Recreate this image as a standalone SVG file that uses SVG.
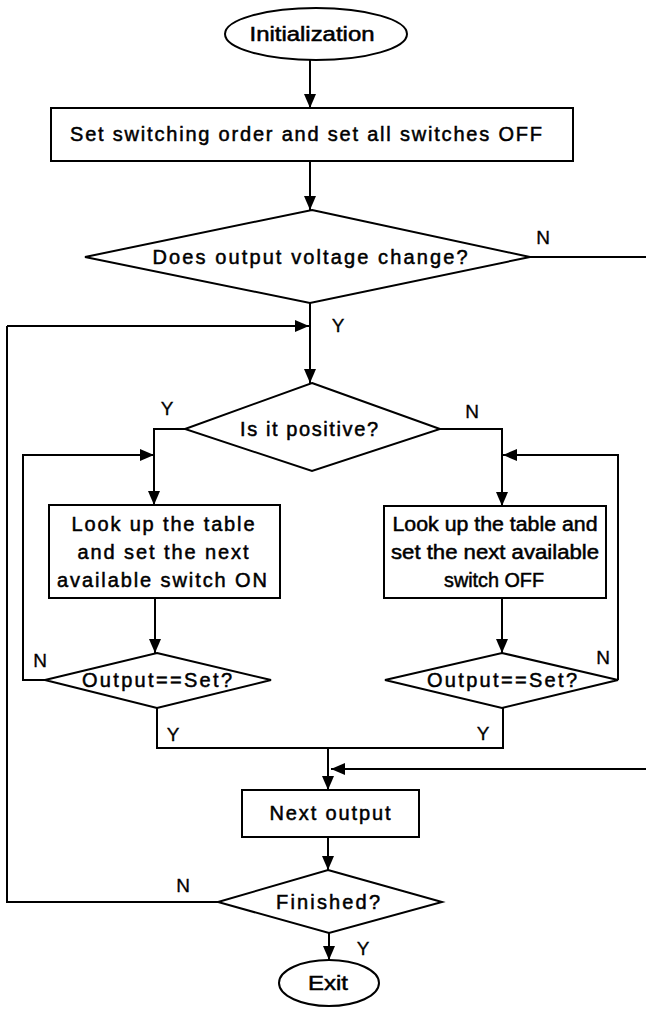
<svg xmlns="http://www.w3.org/2000/svg" width="646" height="1009" viewBox="0 0 646 1009">
<style>
.s{fill:#fff;stroke:#000;stroke-width:2}
.c{fill:none;stroke:#000;stroke-width:2}
.t{font-family:"Liberation Sans",Arial,sans-serif;font-size:20px;fill:#000;stroke:#000;stroke-width:0.5;text-anchor:middle;dominant-baseline:central}
.l{font-family:"Liberation Sans",Arial,sans-serif;font-size:19px;fill:#000;stroke:#000;stroke-width:0.3;text-anchor:middle;dominant-baseline:central}
</style>
<defs>
<marker id="ah" viewBox="0 0 14 12" refX="14" refY="6" markerWidth="14" markerHeight="12" orient="auto" markerUnits="userSpaceOnUse">
<path d="M0,0 L14,6 L0,12 z" fill="#000"/>
</marker>
</defs>
<rect width="646" height="1009" fill="#fff"/>
<g id="connectors">
<path class="c" d="M310,60 V108" marker-end="url(#ah)"/>
<path class="c" d="M310,161 V210" marker-end="url(#ah)"/>
<path class="c" d="M530,257 H646"/>
<path class="c" d="M310,303 V383" marker-end="url(#ah)"/>
<path class="c" d="M7,326 H309" marker-end="url(#ah)"/>
<path class="c" d="M185,429 H154 V505" marker-end="url(#ah)"/>
<path class="c" d="M440,429 H502 V506" marker-end="url(#ah)"/>
<path class="c" d="M155,598 V653" marker-end="url(#ah)"/>
<path class="c" d="M502,598 V653" marker-end="url(#ah)"/>
<path class="c" d="M45,680 H23 V455 H154" marker-end="url(#ah)"/>
<path class="c" d="M618,680 V455 H503" marker-end="url(#ah)"/>
<path class="c" d="M157,708 V748 H503 V708"/>
<path class="c" d="M328,748 V790" marker-end="url(#ah)"/>
<path class="c" d="M646,769 H331" marker-end="url(#ah)"/>
<path class="c" d="M328,837 V870" marker-end="url(#ah)"/>
<path class="c" d="M218,902 H7 V326"/>
<path class="c" d="M329,933 V960" marker-end="url(#ah)"/>
</g>
<g id="n-init">
<ellipse class="s" cx="316" cy="34" rx="91" ry="26"/>
<text class="t" x="312" y="34" textLength="125" lengthAdjust="spacingAndGlyphs">Initialization</text>
</g>
<g id="n-set">
<rect class="s" x="51" y="108" width="522" height="53"/>
<text class="t" x="306" y="134" textLength="472" lengthAdjust="spacing">Set switching order and set all switches OFF</text>
</g>
<g id="n-change">
<polygon class="s" points="312,210 530,257 310,303 85,257"/>
<text class="t" x="310" y="257" textLength="315" lengthAdjust="spacing">Does output voltage change?</text>
</g>
<g id="n-positive">
<polygon class="s" points="312,383 440,429 312,471 185,429"/>
<text class="t" x="309" y="429" textLength="138" lengthAdjust="spacing">Is it positive?</text>
</g>
<g id="n-on">
<rect class="s" x="49" y="505" width="231" height="93"/>
<text class="t" x="163" y="524" textLength="183" lengthAdjust="spacing">Look up the table</text>
<text class="t" x="163" y="552" textLength="171" lengthAdjust="spacing">and set the next</text>
<text class="t" x="162" y="580" textLength="210" lengthAdjust="spacing">available switch ON</text>
</g>
<g id="n-off">
<rect class="s" x="384" y="506" width="222" height="92"/>
<text class="t" x="495" y="524" textLength="205" lengthAdjust="spacingAndGlyphs">Look up the table and</text>
<text class="t" x="495" y="552" textLength="208" lengthAdjust="spacingAndGlyphs">set the next available</text>
<text class="t" x="494" y="580" textLength="100" lengthAdjust="spacingAndGlyphs">switch OFF</text>
</g>
<g id="n-check-left">
<polygon class="s" points="157,653 271,680 157,708 45,680"/>
<text class="t" x="157" y="680" textLength="150" lengthAdjust="spacing">Output==Set?</text>
</g>
<g id="n-check-right">
<polygon class="s" points="502,653 618,680 502,708 385,680"/>
<text class="t" x="502" y="680" textLength="150" lengthAdjust="spacing">Output==Set?</text>
</g>
<g id="n-next">
<rect class="s" x="242" y="790" width="177" height="47"/>
<text class="t" x="330" y="813" textLength="121" lengthAdjust="spacing">Next output</text>
</g>
<g id="n-finished">
<polygon class="s" points="328,870 442,902 329,933 218,902"/>
<text class="t" x="328" y="902" textLength="104" lengthAdjust="spacing">Finished?</text>
</g>
<g id="n-exit">
<ellipse class="s" cx="329" cy="983" rx="50" ry="23"/>
<text class="t" x="328" y="983" textLength="40" lengthAdjust="spacingAndGlyphs">Exit</text>
</g>
<g id="labels">
<text class="l" x="543" y="237">N</text>
<text class="l" x="338" y="325">Y</text>
<text class="l" x="167" y="408">Y</text>
<text class="l" x="472" y="411">N</text>
<text class="l" x="40" y="660">N</text>
<text class="l" x="603" y="657">N</text>
<text class="l" x="173" y="734">Y</text>
<text class="l" x="483" y="733">Y</text>
<text class="l" x="183" y="885">N</text>
<text class="l" x="363" y="948">Y</text>
</g>
</svg>
